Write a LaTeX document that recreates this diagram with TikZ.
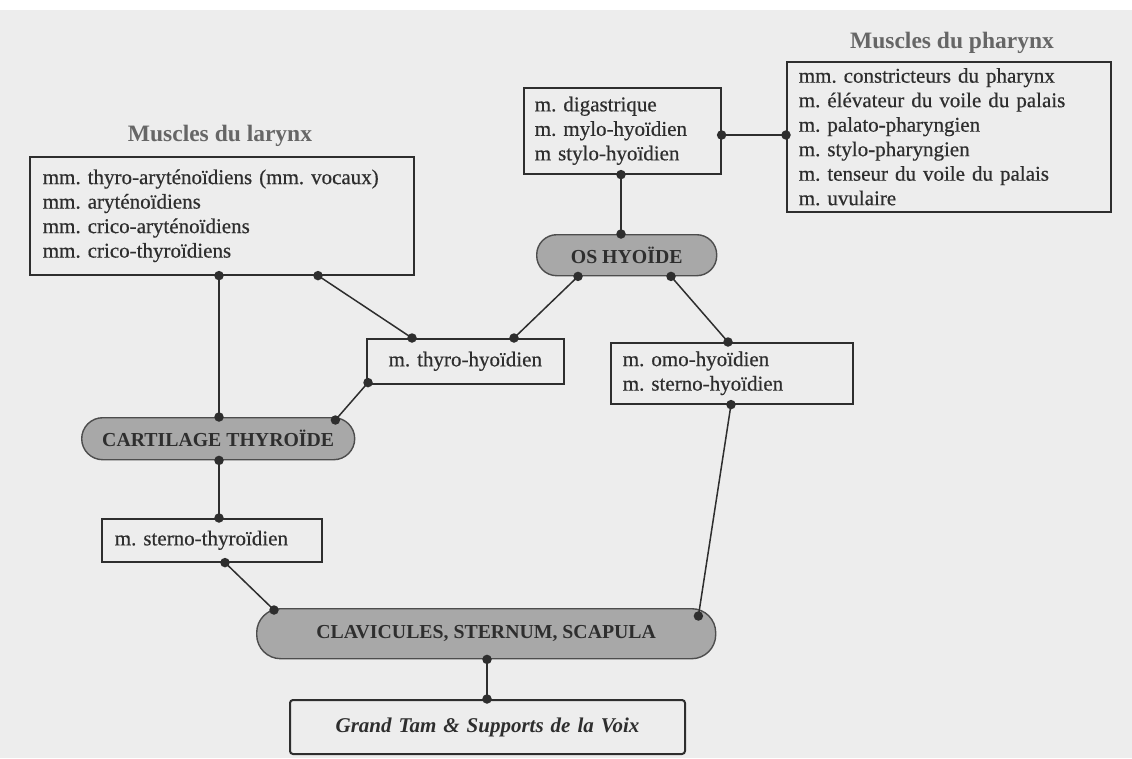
\documentclass[tikz,border=0pt]{standalone}
\usepackage{fontspec}
\setmainfont{Liberation Serif}[FakeBold=0.5]
\newfontfamily\plainserif{Liberation Serif}
\usetikzlibrary{calc}
\definecolor{ink}{HTML}{2E2E2E}
\definecolor{pillfill}{HTML}{A8A8A8}
\definecolor{titlegray}{HTML}{666666}
\definecolor{pagebg}{HTML}{EDEDED}
\newcommand\myBody{\fontsize{21}{24.5}\selectfont}
\newcommand\myTitle{\plainserif\fontsize{23.5}{27}\selectfont\bfseries}
\newcommand\myPill{\plainserif\fontsize{19.8}{23}\selectfont\bfseries}
\frenchspacing
\begin{document}
\frenchspacing
\begin{tikzpicture}[x=1pt,y=-1pt,
  box/.style={draw=ink, line width=1.6pt, fill=pagebg, inner ysep=0pt, font=\myBody, text=ink, anchor=north west, align=left},
  pill/.style={draw=ink!85, line width=1.4pt, fill=pillfill, rounded corners=#1, font=\myPill, text=ink, anchor=north west, inner sep=0pt},
  title/.style={font=\myTitle, text=titlegray},
  link/.style={draw=ink, line width=1.5pt},
  dot/.style={fill=ink, circle, inner sep=0pt, minimum size=9.5pt}
]
\useasboundingbox (0,0) rectangle (1132,758);
\fill[pagebg] (0,0) rectangle (1132,758);
\fill[white] (0,0) rectangle (1132,10);

% titles
\node[title] (tlar) at (220,136) {Muscles du larynx};
\node[title] (tph) at (952,43) {Muscles du pharynx};

% boxes
\node[box, inner xsep=13pt, text width=358pt, minimum height=118pt] (lar) at (29,156)
  {mm. thyro-aryténoïdiens (mm. vocaux)\\mm. aryténoïdiens\\mm. crico-aryténoïdiens\\mm. crico-thyroïdiens};
\node[box, inner xsep=12pt, text width=300pt, minimum height=150pt] (ph) at (786,61)
  {mm. constricteurs du pharynx\\m. élévateur du voile du palais\\m. palato-pharyngien\\m. stylo-pharyngien\\m. tenseur du voile du palais\\m. uvulaire};
\node[box, inner xsep=11pt, text width=175pt, minimum height=86pt] (dg) at (523,87)
  {m. digastrique\\m. mylo-hyoïdien\\m stylo-hyoïdien};
\node[box, inner xsep=0pt, text width=197pt, align=center, minimum height=45pt] (thh) at (366,338)
  {m. thyro-hyoïdien};
\node[box, inner xsep=12pt, text width=218pt, minimum height=61pt] (omo) at (610,342)
  {m. omo-hyoïdien\\m. sterno-hyoïdien};
\node[box, inner xsep=13pt, text width=194pt, minimum height=43pt] (sth) at (101,518)
  {m. sterno-thyroïdien};
\node[box, inner xsep=0pt, text width=395pt, align=center, minimum height=54pt, rounded corners=3pt, line width=2pt,
  font=\plainserif\fontsize{21}{24}\selectfont\bfseries\itshape] (gt) at (289,699)
  {Grand Tam \& Supports de la Voix};

% pills
\node[pill=20pt, minimum width=180pt, minimum height=41pt] (os) at (536,234) {OS HYOÏDE};
\node[pill=21pt, minimum width=273pt, minimum height=42pt] (cart) at (81,417) {CARTILAGE THYROÏDE};
\node[pill=24pt, minimum width=459pt, minimum height=50pt] (clav) at (256,608) {CLAVICULES, STERNUM, SCAPULA};

% connection points
\coordinate (dgR) at (dg.east |- 0,135);
\coordinate (phL) at (ph.west |- 0,135);
\coordinate (dgB) at (621,0 |- dg.south);
\coordinate (osT) at (621,0 |- os.north);
\coordinate (larB1) at (219,0 |- lar.south);
\coordinate (larB2) at (318,0 |- lar.south);
\coordinate (cartT) at (219,0 |- cart.north);
\coordinate (thhT1) at (412,0 |- thh.north);
\coordinate (thhT2) at (514,0 |- thh.north);
\coordinate (osB1) at (578,0 |- os.south);
\coordinate (osB2) at (671,0 |- os.south);
\coordinate (omoT) at (728,0 |- omo.north);
\coordinate (thhBL) at ($(thh.south west)+(2,-2)$);
\coordinate (cartR) at ($(cart.north east)+(-20,3)$);
\coordinate (cartB) at (219,0 |- cart.south);
\coordinate (sthT) at (219,0 |- sth.north);
\coordinate (sthB) at (225,0 |- sth.south);
\coordinate (clavL) at ($(clav.north west)+(18,2)$);
\coordinate (omoB) at (731,0 |- omo.south);
\coordinate (clavR) at ($(clav.north east)+(-18,8)$);
\coordinate (clavB) at (487,0 |- clav.south);
\coordinate (gtT) at (487,0 |- gt.north);

% connectors
\draw[link] (dgR) -- (phL);
\draw[link] (dgB) -- (osT);
\draw[link] (larB1) -- (cartT);
\draw[link] (larB2) -- (thhT1);
\draw[link] (osB1) -- (thhT2);
\draw[link] (osB2) -- (omoT);
\draw[link] (thhBL) -- (cartR);
\draw[link] (cartB) -- (sthT);
\draw[link] (sthB) -- (clavL);
\draw[link] (omoB) -- (clavR);
\draw[link] (clavB) -- (gtT);

% dots
\foreach \p in {dgR,phL,dgB,osT,larB1,larB2,cartT,thhT1,thhT2,osB1,osB2,omoT,thhBL,cartR,cartB,sthT,sthB,clavL,omoB,clavR,clavB,gtT}
  \node[dot] at (\p) {};
\end{tikzpicture}
\end{document}
